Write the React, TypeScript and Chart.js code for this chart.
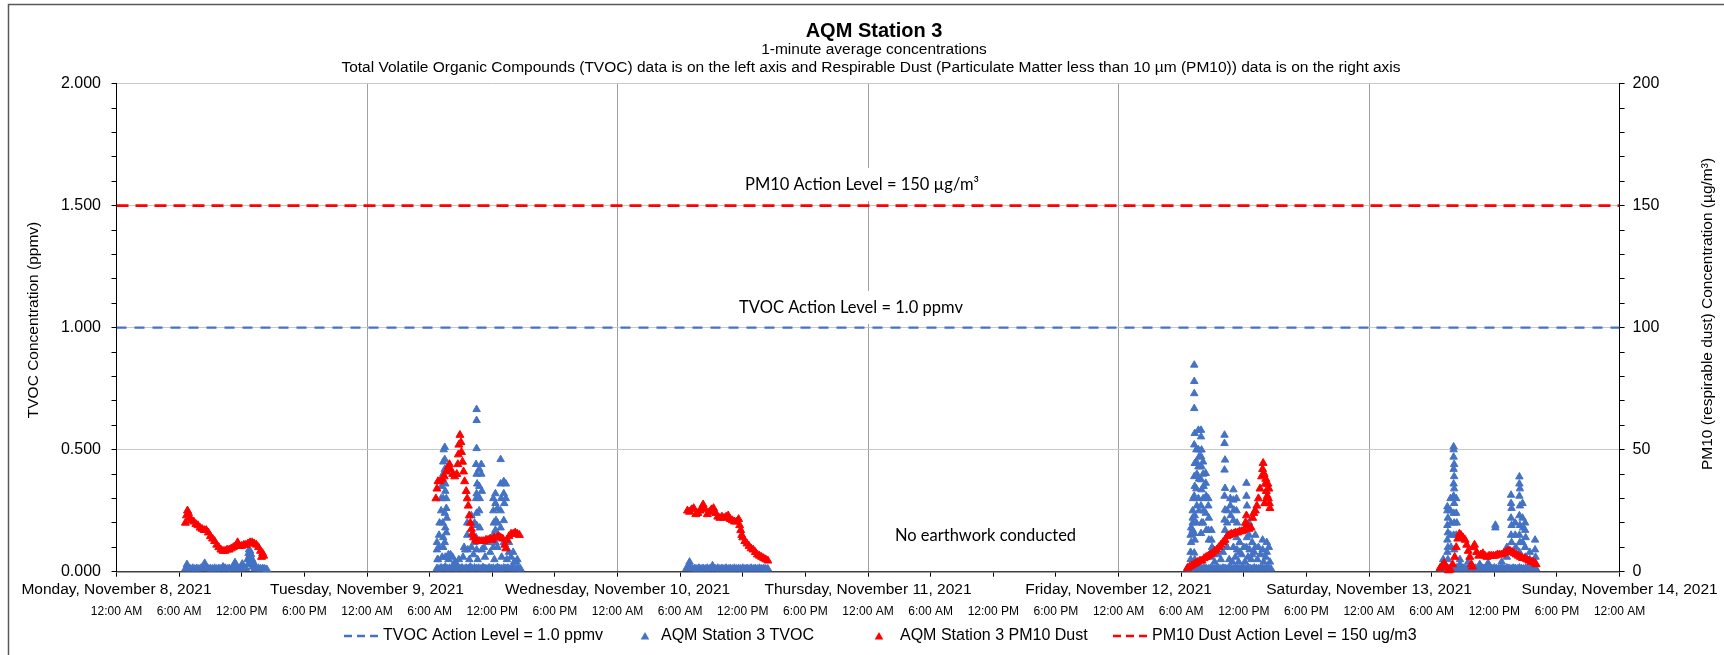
import React, { useEffect, useRef } from "react";
import { Chart, registerables } from "chart.js";

Chart.register(...registerables);

// ---------- text ----------
const CHART_TITLE = "AQM Station 3";
const SUBTITLE_1 = "1-minute average concentrations";
const SUBTITLE_2 =
  "Total Volatile Organic Compounds (TVOC) data is on the left axis and Respirable Dust (Particulate Matter less than 10 µm (PM10)) data is on the right axis";
const LEFT_AXIS_TITLE = "TVOC Concentration (ppmv)";
const RIGHT_AXIS_TITLE = "PM10 (respirable dust) Concentration (µg/m³)";
const PM10_NOTE = "PM10 Action Level = 150 µg/m³";
const TVOC_NOTE = "TVOC Action Level = 1.0 ppmv";
const NO_WORK_NOTE = "No earthwork conducted";

// x axis: hours since Monday, November 8, 2021 12:00 AM
const X_MIN = 0;
const X_MAX = 144;
const DAY_LABELS = [
  "Monday, November 8, 2021",
  "Tuesday, November 9, 2021",
  "Wednesday, November 10, 2021",
  "Thursday, November 11, 2021",
  "Friday, November 12, 2021",
  "Saturday, November 13, 2021",
  "Sunday, November 14, 2021",
];
const TIME_LABELS = ["12:00 AM", "6:00 AM", "12:00 PM", "6:00 PM"];

const TVOC_ACTION_LEVEL = 1.0;
const PM10_ACTION_LEVEL = 150;

const LEGEND_LABELS = [
  "TVOC Action Level = 1.0 ppmv",
  "AQM Station 3 TVOC",
  "AQM Station 3 PM10 Dust",
  "PM10 Dust Action Level = 150 ug/m3",
];

// ---------- data: [hour, TVOC ppmv] ----------
const tvocNov8 = [
  [6.6, 0.012], [6.75, 0.03], [6.9, 0.014], [7.1, 0.012], [7.3, 0.015], [7.5, 0.012], [7.7, 0.014],
  [7.9, 0.012], [8.1, 0.015], [8.3, 0.02], [8.45, 0.035], [8.6, 0.015], [8.8, 0.012], [9.0, 0.014],
  [9.2, 0.012], [9.4, 0.015], [9.6, 0.012], [9.8, 0.014], [10.0, 0.012], [10.2, 0.02], [10.4, 0.015],
  [10.6, 0.012], [10.8, 0.014], [11.0, 0.012], [11.2, 0.02], [11.35, 0.038], [11.5, 0.015], [11.7, 0.012],
  [11.9, 0.02], [12.05, 0.032], [12.2, 0.015], [12.4, 0.014], [12.55, 0.05], [12.6, 0.03], [12.65, 0.075],
  [12.7, 0.09], [12.75, 0.065], [12.8, 0.085], [12.85, 0.05], [12.9, 0.07], [12.95, 0.035], [13.0, 0.05],
  [13.05, 0.02], [13.1, 0.04], [13.2, 0.03], [13.25, 0.014], [13.4, 0.012], [13.6, 0.015], [13.8, 0.012],
  [14.0, 0.014], [14.2, 0.012], [14.4, 0.01],
];

const tvocNov9 = [
  [30.7, 0.014], [30.9, 0.012], [31.1, 0.016], [31.3, 0.014], [31.5, 0.02], [31.7, 0.012], [31.9, 0.015],
  [32.1, 0.014], [32.3, 0.018], [32.5, 0.012], [32.7, 0.015], [32.9, 0.014], [33.1, 0.016], [33.3, 0.012],
  [33.5, 0.015], [33.7, 0.014], [33.9, 0.02], [34.1, 0.012], [34.3, 0.016], [34.5, 0.014], [34.7, 0.015],
  [34.9, 0.012], [35.1, 0.018], [35.3, 0.014], [35.5, 0.012], [35.7, 0.016], [35.9, 0.014], [36.1, 0.015],
  [36.3, 0.012], [36.5, 0.018], [36.7, 0.014], [36.9, 0.012], [37.1, 0.016], [37.3, 0.014], [37.5, 0.015],
  [37.7, 0.012], [37.9, 0.016], [38.1, 0.014], [38.3, 0.012], [38.5, 0.015], [38.7, 0.012],
  [30.8, 0.05], [31.2, 0.06], [31.8, 0.05], [32.0, 0.07], [32.4, 0.04], [32.8, 0.05], [33.2, 0.06],
  [33.4, 0.09], [33.8, 0.05], [34.2, 0.07], [34.6, 0.05], [35.3, 0.06], [35.8, 0.08], [36.2, 0.05],
  [36.9, 0.06], [37.4, 0.05], [37.8, 0.06], [38.1, 0.04], [38.4, 0.05],
  [30.7, 0.09], [30.7, 0.12], [30.75, 0.05], [30.9, 0.1], [30.9, 0.15], [30.95, 0.2],
  [31.1, 0.25], [31.1, 0.3], [31.15, 0.35], [31.3, 0.4], [31.3, 0.45], [31.35, 0.5], [31.3, 0.3],
  [31.25, 0.2], [31.3, 0.14], [31.3, 0.1], [31.45, 0.51], [31.45, 0.46], [31.45, 0.42], [31.5, 0.36],
  [31.5, 0.33], [31.45, 0.24], [31.5, 0.18], [31.45, 0.12], [31.5, 0.06], [31.6, 0.3], [31.6, 0.26],
  [31.65, 0.22], [31.6, 0.16], [31.8, 0.07], [32.2, 0.06], [32.6, 0.03], [33.3, 0.1], [33.6, 0.2],
  [33.6, 0.15], [33.65, 0.09], [34.0, 0.23], [34.0, 0.1], [34.3, 0.2], [34.3, 0.12],
  [34.5, 0.665], [34.5, 0.62], [34.5, 0.505], [34.45, 0.44], [34.5, 0.4], [34.55, 0.36], [34.5, 0.32],
  [34.45, 0.3], [34.5, 0.24], [34.5, 0.19], [34.45, 0.14], [34.5, 0.09], [34.75, 0.42], [34.75, 0.35],
  [34.8, 0.3], [34.75, 0.25], [34.8, 0.18], [34.95, 0.44], [34.95, 0.4], [35.0, 0.33], [35.0, 0.09],
  [35.2, 0.1], [35.6, 0.12], [36.1, 0.3], [36.1, 0.25], [36.15, 0.2], [36.1, 0.15], [36.1, 0.1],
  [36.3, 0.32], [36.3, 0.28], [36.35, 0.21], [36.3, 0.17], [36.3, 0.12], [36.5, 0.26], [36.5, 0.2],
  [36.55, 0.15], [36.5, 0.1], [36.8, 0.46], [36.8, 0.36], [36.85, 0.3], [36.8, 0.25], [36.8, 0.18],
  [37.1, 0.37], [37.1, 0.32], [37.15, 0.28], [37.1, 0.21], [37.1, 0.12], [37.3, 0.36], [37.3, 0.3],
  [37.6, 0.12], [37.6, 0.08], [38.0, 0.08], [38.3, 0.04],
];

const tvocNov10 = [
  [54.6, 0.014], [54.8, 0.02], [54.9, 0.04], [55.0, 0.016], [55.2, 0.012], [55.4, 0.014], [55.6, 0.012],
  [55.8, 0.015], [56.0, 0.012], [56.2, 0.014], [56.4, 0.012], [56.6, 0.015], [56.8, 0.012], [57.0, 0.016],
  [57.1, 0.025], [57.2, 0.014], [57.4, 0.012], [57.6, 0.015], [57.8, 0.012], [58.0, 0.014], [58.2, 0.012],
  [58.4, 0.015], [58.6, 0.012], [58.8, 0.014], [59.0, 0.012], [59.2, 0.015], [59.4, 0.012], [59.6, 0.014],
  [59.8, 0.012], [60.0, 0.015], [60.2, 0.012], [60.4, 0.014], [60.6, 0.012], [60.8, 0.015], [61.0, 0.012],
  [61.2, 0.014], [61.4, 0.012], [61.6, 0.015], [61.8, 0.012], [62.0, 0.014], [62.2, 0.012], [62.4, 0.012],
];

const tvocNov12 = [
  [102.6, 0.014], [102.8, 0.012], [103.0, 0.016], [103.2, 0.014], [103.4, 0.012], [103.6, 0.015],
  [103.8, 0.014], [104.0, 0.012], [104.2, 0.016], [104.4, 0.014], [104.6, 0.012], [104.8, 0.015],
  [105.0, 0.014], [105.2, 0.012], [105.4, 0.016], [105.6, 0.014], [105.8, 0.012], [106.0, 0.015],
  [106.2, 0.014], [106.4, 0.012], [106.6, 0.016], [106.8, 0.014], [107.0, 0.012], [107.2, 0.015],
  [107.4, 0.014], [107.6, 0.012], [107.8, 0.016], [108.0, 0.014], [108.2, 0.012], [108.4, 0.015],
  [108.6, 0.014], [108.8, 0.012], [109.0, 0.016], [109.2, 0.014], [109.4, 0.012], [109.6, 0.015],
  [109.8, 0.014], [110.0, 0.012], [110.2, 0.016], [110.4, 0.014], [110.6, 0.012],
  [104.8, 0.06], [105.0, 0.09], [105.2, 0.04], [105.5, 0.07], [105.8, 0.05], [106.0, 0.08], [106.6, 0.05],
  [106.9, 0.04], [107.2, 0.06], [107.5, 0.04], [107.8, 0.07], [108.1, 0.04], [108.4, 0.06], [108.7, 0.05],
  [109.0, 0.08], [109.3, 0.05], [109.6, 0.07], [109.9, 0.04], [110.1, 0.06], [110.5, 0.04],
  [102.9, 0.05], [102.9, 0.08], [102.95, 0.12], [102.9, 0.15], [102.95, 0.18],
  [103.1, 0.2], [103.1, 0.25], [103.15, 0.3], [103.1, 0.22], [103.1, 0.17],
  [103.25, 0.847], [103.25, 0.78], [103.25, 0.73], [103.25, 0.669], [103.3, 0.567], [103.25, 0.52],
  [103.3, 0.444], [103.25, 0.39], [103.3, 0.35], [103.25, 0.31], [103.3, 0.23], [103.25, 0.157],
  [103.3, 0.13], [103.25, 0.077], [103.3, 0.05],
  [103.45, 0.5], [103.45, 0.45], [103.5, 0.4], [103.45, 0.34], [103.5, 0.27], [103.45, 0.2],
  [103.65, 0.58], [103.65, 0.5], [103.7, 0.47], [103.65, 0.43], [103.7, 0.38], [103.65, 0.3], [103.7, 0.25],
  [103.9, 0.58], [103.9, 0.553], [103.95, 0.499], [103.9, 0.472], [103.95, 0.43], [103.9, 0.377],
  [103.95, 0.336], [103.9, 0.27], [103.95, 0.2], [103.9, 0.157],
  [104.1, 0.45], [104.1, 0.4], [104.15, 0.35], [104.1, 0.3], [104.15, 0.25], [104.1, 0.2],
  [104.35, 0.403], [104.35, 0.363], [104.4, 0.31], [104.35, 0.24], [104.4, 0.17],
  [104.6, 0.3], [104.6, 0.27], [104.65, 0.22], [104.6, 0.17], [104.65, 0.13],
  [104.9, 0.17], [104.9, 0.13], [104.95, 0.1], [105.3, 0.08], [105.7, 0.1],
  [106.15, 0.56], [106.15, 0.526], [106.2, 0.458], [106.15, 0.417], [106.2, 0.342], [106.15, 0.31],
  [106.2, 0.253], [106.15, 0.212], [106.2, 0.17], [106.15, 0.12],
  [106.4, 0.25], [106.4, 0.2], [106.45, 0.15], [106.4, 0.1], [106.7, 0.3], [106.7, 0.27], [106.75, 0.23],
  [107.0, 0.336], [107.0, 0.294], [107.05, 0.253], [107.0, 0.21], [107.05, 0.157], [107.0, 0.1],
  [107.3, 0.3], [107.3, 0.25], [107.35, 0.2], [107.3, 0.14], [107.35, 0.09],
  [107.6, 0.12], [107.6, 0.08], [108.0, 0.1],
  [108.25, 0.363], [108.25, 0.31], [108.3, 0.27], [108.25, 0.2], [108.3, 0.14], [108.25, 0.1],
  [108.5, 0.2], [108.5, 0.15], [108.55, 0.09], [108.8, 0.12], [108.8, 0.07],
  [109.1, 0.15], [109.1, 0.1], [109.4, 0.1], [109.8, 0.13], [109.8, 0.09],
  [110.2, 0.12], [110.2, 0.08], [110.4, 0.1],
];

const tvocNov13 = [
  [126.8, 0.014], [127.0, 0.012], [127.2, 0.016], [127.4, 0.014], [127.6, 0.012], [127.8, 0.015],
  [128.0, 0.014], [128.2, 0.012], [128.4, 0.016], [128.6, 0.014], [128.8, 0.012], [129.0, 0.015],
  [129.2, 0.014], [129.4, 0.012], [129.6, 0.016], [129.8, 0.014], [130.0, 0.012], [130.2, 0.015],
  [130.4, 0.014], [130.6, 0.012], [130.8, 0.016], [131.0, 0.014], [131.2, 0.012], [131.4, 0.015],
  [131.6, 0.014], [131.8, 0.012], [132.0, 0.016], [132.2, 0.014], [132.4, 0.012], [132.6, 0.015],
  [132.8, 0.014], [133.0, 0.012], [133.2, 0.016], [133.4, 0.014], [133.6, 0.012], [133.8, 0.015],
  [134.0, 0.014], [134.2, 0.012], [134.4, 0.016], [134.6, 0.014], [134.8, 0.012], [135.0, 0.015],
  [135.2, 0.014], [135.4, 0.012], [135.6, 0.016], [135.8, 0.014], [136.0, 0.012],
  [127.1, 0.05], [127.1, 0.03], [128.7, 0.05], [128.7, 0.03], [129.5, 0.04], [130.6, 0.03], [131.4, 0.035],
  [132.7, 0.04], [133.2, 0.1], [133.2, 0.06], [135.4, 0.08], [135.4, 0.05],
  [127.5, 0.266], [127.5, 0.25], [127.55, 0.22], [127.5, 0.19], [127.55, 0.16], [127.5, 0.13],
  [127.55, 0.1], [127.5, 0.08], [127.55, 0.05],
  [127.8, 0.3], [127.8, 0.25], [127.85, 0.2], [127.8, 0.15], [127.85, 0.1],
  [128.1, 0.512], [128.1, 0.5], [128.1, 0.47], [128.15, 0.44], [128.1, 0.42], [128.15, 0.39],
  [128.1, 0.36], [128.15, 0.34], [128.1, 0.31], [128.15, 0.28], [128.1, 0.24], [128.15, 0.2],
  [128.1, 0.15], [128.15, 0.09],
  [128.35, 0.3], [128.35, 0.24], [128.4, 0.2], [128.35, 0.15],
  [132.1, 0.191], [132.1, 0.18],
  [133.6, 0.314], [133.6, 0.28], [133.65, 0.26], [133.6, 0.22], [133.65, 0.19], [133.6, 0.15],
  [133.65, 0.12], [133.6, 0.08],
  [134.0, 0.2], [134.0, 0.15], [134.05, 0.1],
  [134.4, 0.389], [134.4, 0.36], [134.45, 0.34], [134.4, 0.31], [134.45, 0.27], [134.4, 0.23],
  [134.45, 0.19], [134.4, 0.15], [134.45, 0.12], [134.4, 0.08],
  [134.7, 0.28], [134.7, 0.22], [134.75, 0.18], [134.7, 0.12],
  [134.95, 0.2], [134.95, 0.17], [135.0, 0.14], [134.95, 0.1], [135.0, 0.06],
  [135.9, 0.13], [135.9, 0.09], [135.95, 0.06], [135.9, 0.03],
];

// ---------- data: [hour, PM10 µg/m³] ----------
const pm10Nov8 = [
  [6.6, 20], [6.7, 23], [6.8, 25], [6.9, 24], [7.0, 22], [7.2, 21], [7.4, 20.5], [7.6, 19.5], [7.8, 19],
  [8.0, 18], [8.2, 17.5], [8.4, 17], [8.6, 17], [8.8, 16], [9.0, 14.5], [9.2, 13.5], [9.4, 12.5],
  [9.6, 11], [9.8, 10], [10.0, 9], [10.2, 8.5], [10.4, 8.5], [10.6, 9], [10.8, 9], [11.0, 9.5],
  [11.2, 10], [11.4, 10.5], [11.6, 12], [11.8, 10.5], [12.0, 10.5], [12.2, 11], [12.4, 11], [12.6, 11.5],
  [12.8, 12], [13.0, 12], [13.2, 11.5], [13.4, 11], [13.6, 10], [13.8, 8.5], [13.9, 6], [14.0, 7.5],
  [14.1, 6.5],
];

const pm10Nov9 = [
  [30.6, 30], [30.7, 34], [30.8, 37], [31.0, 37], [31.2, 38], [31.4, 39], [31.6, 41], [31.8, 43],
  [31.9, 44], [32.0, 42], [32.2, 40], [32.4, 39], [32.6, 40], [32.7, 44], [32.75, 48], [32.8, 52],
  [32.9, 56], [33.0, 53], [33.05, 49], [33.15, 45], [33.25, 41], [33.35, 37], [33.5, 33], [33.6, 30],
  [33.7, 27], [33.8, 23], [33.9, 20], [34.0, 17.5], [34.1, 15.5], [34.2, 14], [34.4, 13], [34.6, 12.5],
  [34.8, 12.5], [35.0, 12.5], [35.2, 12.5], [35.4, 13], [35.6, 13], [35.8, 13.5], [36.0, 13],
  [36.2, 14], [36.4, 14], [36.6, 14.5], [36.8, 14], [37.0, 13.5], [37.2, 11], [37.3, 9.5], [37.4, 13],
  [37.6, 14.5], [37.8, 15.5], [38.0, 15.5], [38.2, 16], [38.4, 15.5], [38.6, 15],
];

const pm10Nov10 = [
  [54.7, 25], [54.9, 24.5], [55.1, 25.5], [55.3, 26], [55.5, 23.5], [55.7, 24], [55.9, 25], [56.1, 26.5],
  [56.2, 27.5], [56.4, 25.5], [56.6, 23.5], [56.8, 24.5], [57.0, 25.5], [57.2, 26], [57.4, 24],
  [57.6, 22.5], [57.8, 22], [58.0, 22.5], [58.2, 22], [58.4, 22.5], [58.6, 23], [58.8, 21.5], [59.0, 21],
  [59.2, 20.5], [59.4, 20.5], [59.6, 21.5], [59.7, 19], [59.8, 17], [59.9, 15], [60.0, 14], [60.2, 12.5],
  [60.4, 11.5], [60.6, 10.5], [60.8, 9.5], [61.0, 9], [61.2, 8], [61.4, 7], [61.6, 6.5], [61.8, 6],
  [62.0, 5.5], [62.2, 5], [62.4, 4.5],
];

const pm10Nov12 = [
  [102.6, 1.5], [102.8, 2], [103.0, 2.5], [103.2, 3], [103.4, 3.5], [103.6, 4], [103.8, 4.5], [104.0, 4.5],
  [104.2, 5.5], [104.4, 6], [104.6, 6.5], [104.8, 7], [105.0, 7.5], [105.2, 8.5], [105.4, 9], [105.6, 10],
  [105.8, 11], [106.0, 12], [106.2, 13], [106.4, 14.5], [106.6, 15], [106.8, 15.5], [107.0, 15.5],
  [107.2, 16], [107.4, 16], [107.6, 16.5], [107.8, 16.5], [108.0, 17], [108.15, 20], [108.25, 23],
  [108.35, 19], [108.5, 17.5], [108.7, 18], [108.85, 22], [108.95, 24], [109.1, 25], [109.25, 27],
  [109.4, 30], [109.55, 34], [109.7, 39], [109.8, 42], [109.85, 44.5], [109.95, 40], [110.05, 36],
  [110.15, 33], [110.25, 31], [110.35, 30], [110.45, 28], [110.5, 26], [110.1, 38], [110.3, 36],
  [110.4, 34], [110.2, 30], [110.0, 28],
];

const pm10Nov13 = [
  [126.8, 1.5], [127.0, 2.5], [127.2, 3.5], [127.4, 2], [127.6, 0.5], [127.8, 0.8], [128.0, 3], [128.2, 6],
  [128.35, 10], [128.5, 13.5], [128.65, 15.5], [128.8, 15], [129.0, 14], [129.2, 13], [129.35, 11],
  [129.5, 8.5], [129.65, 6], [129.8, 3], [129.9, 2], [130.0, 10], [130.1, 11], [130.3, 8], [130.5, 6.5],
  [130.7, 7], [130.9, 7.5], [131.1, 6.5], [131.3, 6], [131.5, 6.5], [131.7, 6.5], [131.9, 6.5],
  [132.1, 6.5], [132.3, 7], [132.5, 7], [132.7, 7], [132.9, 7.5], [133.1, 8], [133.3, 8.5], [133.5, 8.5],
  [133.7, 8], [133.9, 7.5], [134.1, 7], [134.3, 6.5], [134.5, 6], [134.7, 5.5], [134.9, 5.5], [135.1, 5],
  [135.3, 4.5], [135.5, 4], [135.7, 4], [135.9, 3.5], [136.0, 3],
];

// ---------- styling ----------
const BLUE = "#4472C4";
const RED = "#FF0000";
const FONT = '"Liberation Sans", Arial, sans-serif';
const NOTE_FONT = 'Lato, "Open Sans", sans-serif';

const W = 1724;
const H = 655;

const toPoints = (arrs: number[][][]) =>
  arrs.flat().map(([x, y]) => ({ x, y }));

const isHalf = (v: number) => Math.abs(v * 2 - Math.round(v * 2)) < 1e-6;

function drawTriangle(ctx: CanvasRenderingContext2D, cx: number, cy: number, r: number, color: string) {
  ctx.beginPath();
  ctx.moveTo(cx, cy - r);
  ctx.lineTo(cx + r * 0.866, cy + r / 2);
  ctx.lineTo(cx - r * 0.866, cy + r / 2);
  ctx.closePath();
  ctx.fillStyle = color;
  ctx.fill();
}

const decorPlugin = {
  id: "decor",
  afterDraw(chart: any) {
    const ctx: CanvasRenderingContext2D = chart.ctx;
    ctx.save();

    // outer chart border (top and left visible)
    ctx.strokeStyle = "#595959";
    ctx.lineWidth = 1.5;
    ctx.beginPath();
    ctx.moveTo(8.5, H);
    ctx.lineTo(8.5, 4.5);
    ctx.lineTo(W, 4.5);
    ctx.stroke();

    // titles
    ctx.fillStyle = "#000";
    ctx.textAlign = "center";
    ctx.textBaseline = "middle";
    ctx.font = `bold 20px ${FONT}`;
    ctx.fillText(CHART_TITLE, 874, 31);
    ctx.font = `15.5px ${FONT}`;
    ctx.fillText(SUBTITLE_1, 874, 49.5);
    ctx.fillText(SUBTITLE_2, 871, 67.5);

    // axis titles
    ctx.font = `15.5px ${FONT}`;
    ctx.save();
    ctx.translate(34, 320);
    ctx.rotate(-Math.PI / 2);
    ctx.fillText(LEFT_AXIS_TITLE, 0, 0);
    ctx.restore();
    ctx.save();
    ctx.translate(1707.5, 314);
    ctx.rotate(-Math.PI / 2);
    ctx.fillText(RIGHT_AXIS_TITLE, 0, 0);
    ctx.restore();

    // annotations on white boxes
    ctx.font = `16.5px ${NOTE_FONT}`;
    const notes: [string, number, number, boolean][] = [
      [PM10_NOTE, 862, 185, true],
      [TVOC_NOTE, 851, 308, true],
      [NO_WORK_NOTE, 985.5, 535.5, false],
    ];
    for (const [t, x, y, box] of notes) {
      if (box) {
        const w = ctx.measureText(t).width + 14;
        ctx.fillStyle = "#fff";
        ctx.fillRect(x - w / 2, y - 17, w, 33);
      }
      ctx.fillStyle = "#000";
      ctx.fillText(t, x, y);
    }

    // legend
    const ly = 636;
    ctx.font = `16px ${FONT}`;
    ctx.textAlign = "left";
    ctx.lineWidth = 2.5;
    ctx.setLineDash([8, 5]);
    ctx.strokeStyle = BLUE;
    ctx.beginPath();
    ctx.moveTo(344, ly);
    ctx.lineTo(379, ly);
    ctx.stroke();
    ctx.strokeStyle = RED;
    ctx.beginPath();
    ctx.moveTo(1113, ly);
    ctx.lineTo(1148, ly);
    ctx.stroke();
    ctx.setLineDash([]);
    drawTriangle(ctx, 645, ly + 1, 5, BLUE);
    drawTriangle(ctx, 879, ly + 1, 5, RED);
    ctx.fillStyle = "#000";
    ctx.fillText(LEGEND_LABELS[0], 383, ly);
    ctx.fillText(LEGEND_LABELS[1], 661, ly);
    ctx.fillText(LEGEND_LABELS[2], 900, ly);
    ctx.fillText(LEGEND_LABELS[3], 1152, ly);

    ctx.restore();
  },
};

export default function App() {
  const ref = useRef<HTMLCanvasElement>(null);

  useEffect(() => {
    if (!ref.current) return;
    const chart = new Chart(ref.current, {
      type: "scatter",
      data: {
        datasets: [
          {
            label: LEGEND_LABELS[2],
            data: toPoints([pm10Nov8, pm10Nov9, pm10Nov10, pm10Nov12, pm10Nov13]),
            yAxisID: "y2",
            showLine: false,
            pointStyle: "triangle",
            pointRadius: 4.6,
            pointBorderWidth: 1,
            backgroundColor: RED,
            borderColor: RED,
            clip: false,
            order: 0,
          },
          {
            label: LEGEND_LABELS[1],
            data: toPoints([tvocNov8, tvocNov9, tvocNov10, tvocNov12, tvocNov13]),
            yAxisID: "y",
            showLine: false,
            pointStyle: "triangle",
            pointRadius: 4.3,
            pointBorderWidth: 1,
            backgroundColor: BLUE,
            borderColor: BLUE,
            clip: false,
            order: 1,
          },
          {
            label: LEGEND_LABELS[0],
            data: [
              { x: X_MIN, y: TVOC_ACTION_LEVEL },
              { x: X_MAX, y: TVOC_ACTION_LEVEL },
            ],
            yAxisID: "y",
            showLine: true,
            pointRadius: 0,
            borderColor: BLUE,
            borderWidth: 2.25,
            borderDash: [10, 8],
            order: 2,
          },
          {
            label: LEGEND_LABELS[3],
            data: [
              { x: X_MIN, y: PM10_ACTION_LEVEL },
              { x: X_MAX, y: PM10_ACTION_LEVEL },
            ],
            yAxisID: "y2",
            showLine: true,
            pointRadius: 0,
            borderColor: RED,
            borderWidth: 2.75,
            borderDash: [12, 7],
            order: 2,
          },
        ] as any,
      },
      options: {
        responsive: false,
        animation: false,
        events: [],
        layout: { padding: { top: 83.6, left: 0, right: 0, bottom: 28.3 } },
        plugins: {
          legend: { display: false },
          tooltip: { enabled: false },
          title: { display: false },
        },
        scales: {
          x: {
            type: "linear",
            position: "bottom",
            min: X_MIN,
            max: X_MAX,
            afterFit: (s: any) => {
              s.height = 30;
            },
            ticks: {
              stepSize: 6,
              autoSkip: false,
              maxRotation: 0,
              minRotation: 0,
              padding: 4,
              color: "#000",
              font: { family: FONT, size: 15.5 },
              callback: (v: any) => {
                const n = Math.round(Number(v));
                return n % 24 === 0 ? DAY_LABELS[n / 24] : "";
              },
            },
            grid: {
              color: (c: any) =>
                c.tick && Math.round(c.tick.value) % 24 === 0 ? "#a0a0a0" : "rgba(0,0,0,0)",
              lineWidth: 1,
              tickColor: "#000",
              tickLength: 5,
            },
            border: { display: true, color: "#404040", width: 1.5 },
          },
          x2: {
            type: "linear",
            position: "bottom",
            min: X_MIN,
            max: X_MAX,
            afterFit: (s: any) => {
              s.height = 25;
            },
            ticks: {
              stepSize: 6,
              autoSkip: false,
              maxRotation: 0,
              minRotation: 0,
              padding: 3,
              color: "#000",
              font: { family: FONT, size: 12 },
              callback: (v: any) => {
                const n = Math.round(Number(v));
                return TIME_LABELS[(n % 24) / 6];
              },
            },
            grid: { display: false, drawTicks: false, tickLength: 0 },
            border: { display: false },
          },
          y: {
            type: "linear",
            position: "left",
            min: 0,
            max: 2,
            afterFit: (s: any) => {
              s.width = 116.5;
            },
            ticks: {
              stepSize: 0.1,
              autoSkip: false,
              padding: 10.5,
              color: "#000",
              font: { family: FONT, size: 16 },
              callback: (v: any) => (isHalf(Number(v)) ? Number(v).toFixed(3) : ""),
            },
            grid: {
              color: (c: any) =>
                c.tick && isHalf(c.tick.value) && c.tick.value > 0 ? "#c8c8c8" : "rgba(0,0,0,0)",
              lineWidth: 1,
              tickColor: "#000",
              tickLength: 5,
            },
            border: { display: true, color: "#000", width: 1 },
          },
          y2: {
            type: "linear",
            position: "right",
            min: 0,
            max: 200,
            afterFit: (s: any) => {
              s.width = W - 1619.6;
            },
            ticks: {
              stepSize: 10,
              autoSkip: false,
              padding: 8,
              color: "#000",
              font: { family: FONT, size: 16 },
              callback: (v: any) => (Number(v) % 50 === 0 ? String(v) : ""),
            },
            grid: {
              drawOnChartArea: false,
              tickColor: "#000",
              tickLength: 5,
            },
            border: { display: true, color: "#000", width: 1 },
          },
        },
      } as any,
      plugins: [decorPlugin],
    });
    return () => chart.destroy();
  }, []);

  return (
    <div
      style={{
        position: "fixed",
        left: 0,
        top: 0,
        width: W,
        height: H,
        background: "#fff",
      }}
    >
      <canvas ref={ref} width={W} height={H} style={{ display: "block" }} />
    </div>
  );
}
